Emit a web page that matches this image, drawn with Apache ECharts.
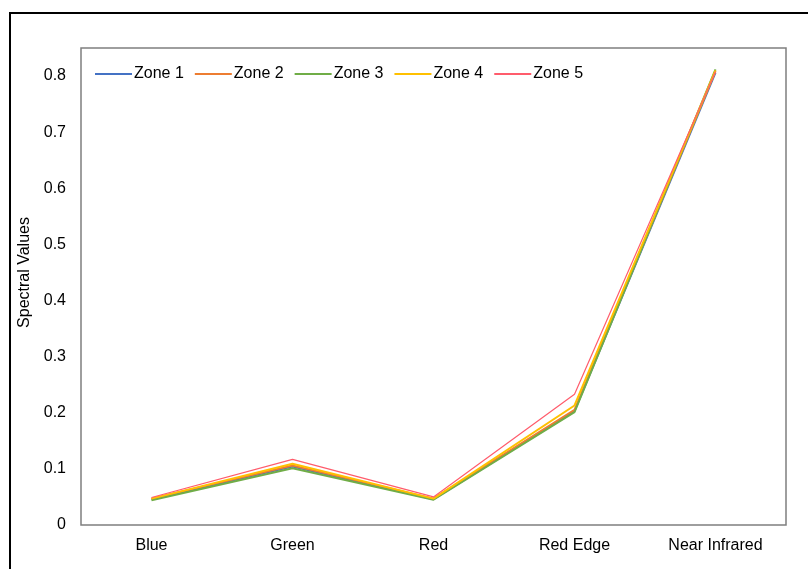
<!DOCTYPE html>
<html>
<head>
<meta charset="utf-8">
<script src="https://cdn.jsdelivr.net/npm/echarts@6/dist/echarts.min.js"></script>
<style>
  html, body { margin: 0; padding: 0; background: #fff; }
  #chart { width: 808px; height: 569px; }
</style>
</head>
<body>
<div id="chart"></div>
<script>
// Spectral bands along the x axis
const bands = ['Blue', 'Green', 'Red', 'Red Edge', 'Near Infrared'];

// Mean spectral values per zone
const zone1 = [0.046, 0.104, 0.046, 0.203, 0.806];
const zone2 = [0.047, 0.106, 0.047, 0.205, 0.809];
const zone3 = [0.044, 0.101, 0.045, 0.201, 0.812];
const zone4 = [0.047, 0.109, 0.047, 0.213, 0.810];
const zone5 = [0.049, 0.117, 0.050, 0.233, 0.808];

const zoneNames = ['Zone 1', 'Zone 2', 'Zone 3', 'Zone 4', 'Zone 5'];
const zoneColors = ['#4472C4', '#ED7D31', '#70AD47', '#FFC000', '#FF5C6C'];
const zoneWidths = [2, 2, 2, 2, 1.2];
const zoneData = [zone1, zone2, zone3, zone4, zone5];

const font = 'Liberation Sans, Arial, sans-serif';

const chart = echarts.init(document.getElementById('chart'), null, { renderer: 'canvas' });

chart.setOption({
  backgroundColor: '#fff',
  animation: false,
  textStyle: { fontFamily: font, color: '#000' },
  graphic: [{
    type: 'rect',
    shape: { x: 10, y: 13, width: 820, height: 600 },
    style: { fill: 'none', stroke: '#000', lineWidth: 2 },
    silent: true
  }],
  legend: {
    left: 90,
    top: 61,
    itemWidth: 37,
    itemHeight: 16,
    itemGap: 11,
    icon: 'path://M0,7 L37,7 L37,9 L0,9 Z',
    textStyle: { fontFamily: font, fontSize: 16, color: '#000', padding: [0, 0, 0, -3] },
    data: zoneNames.map((n, i) => ({ name: n, itemStyle: { color: zoneColors[i] } }))
  },
  grid: {
    left: 81,
    top: 48,
    width: 705,
    height: 477,
    show: true,
    borderColor: '#7f7f7f',
    borderWidth: 1.5,
    containLabel: false
  },
  xAxis: {
    type: 'category',
    data: bands,
    boundaryGap: true,
    axisLine: { show: false },
    axisTick: { show: false },
    axisLabel: { fontFamily: font, fontSize: 16, color: '#000', margin: 13 },
    splitLine: { show: false }
  },
  yAxis: {
    type: 'value',
    min: 0,
    max: 0.85,
    interval: 0.1,
    name: 'Spectral Values',
    nameLocation: 'middle',
    nameGap: 45,
    nameRotate: 90,
    nameTextStyle: { fontFamily: font, fontSize: 16, color: '#000', padding: [0, 0, 0, 28] },
    axisLine: { show: false },
    axisTick: { show: false },
    splitLine: { show: false },
    axisLabel: {
      fontFamily: font, fontSize: 16, color: '#000', margin: 15,
      showMaxLabel: false,
      formatter: v => (Math.round(v * 10) / 10).toString()
    }
  },
  series: zoneData.map((d, i) => ({
    name: zoneNames[i],
    type: 'line',
    data: d,
    symbol: 'none',
    smooth: false,
    lineStyle: { color: zoneColors[i], width: zoneWidths[i] },
    itemStyle: { color: zoneColors[i] }
  }))
});
</script>
</body>
</html>
